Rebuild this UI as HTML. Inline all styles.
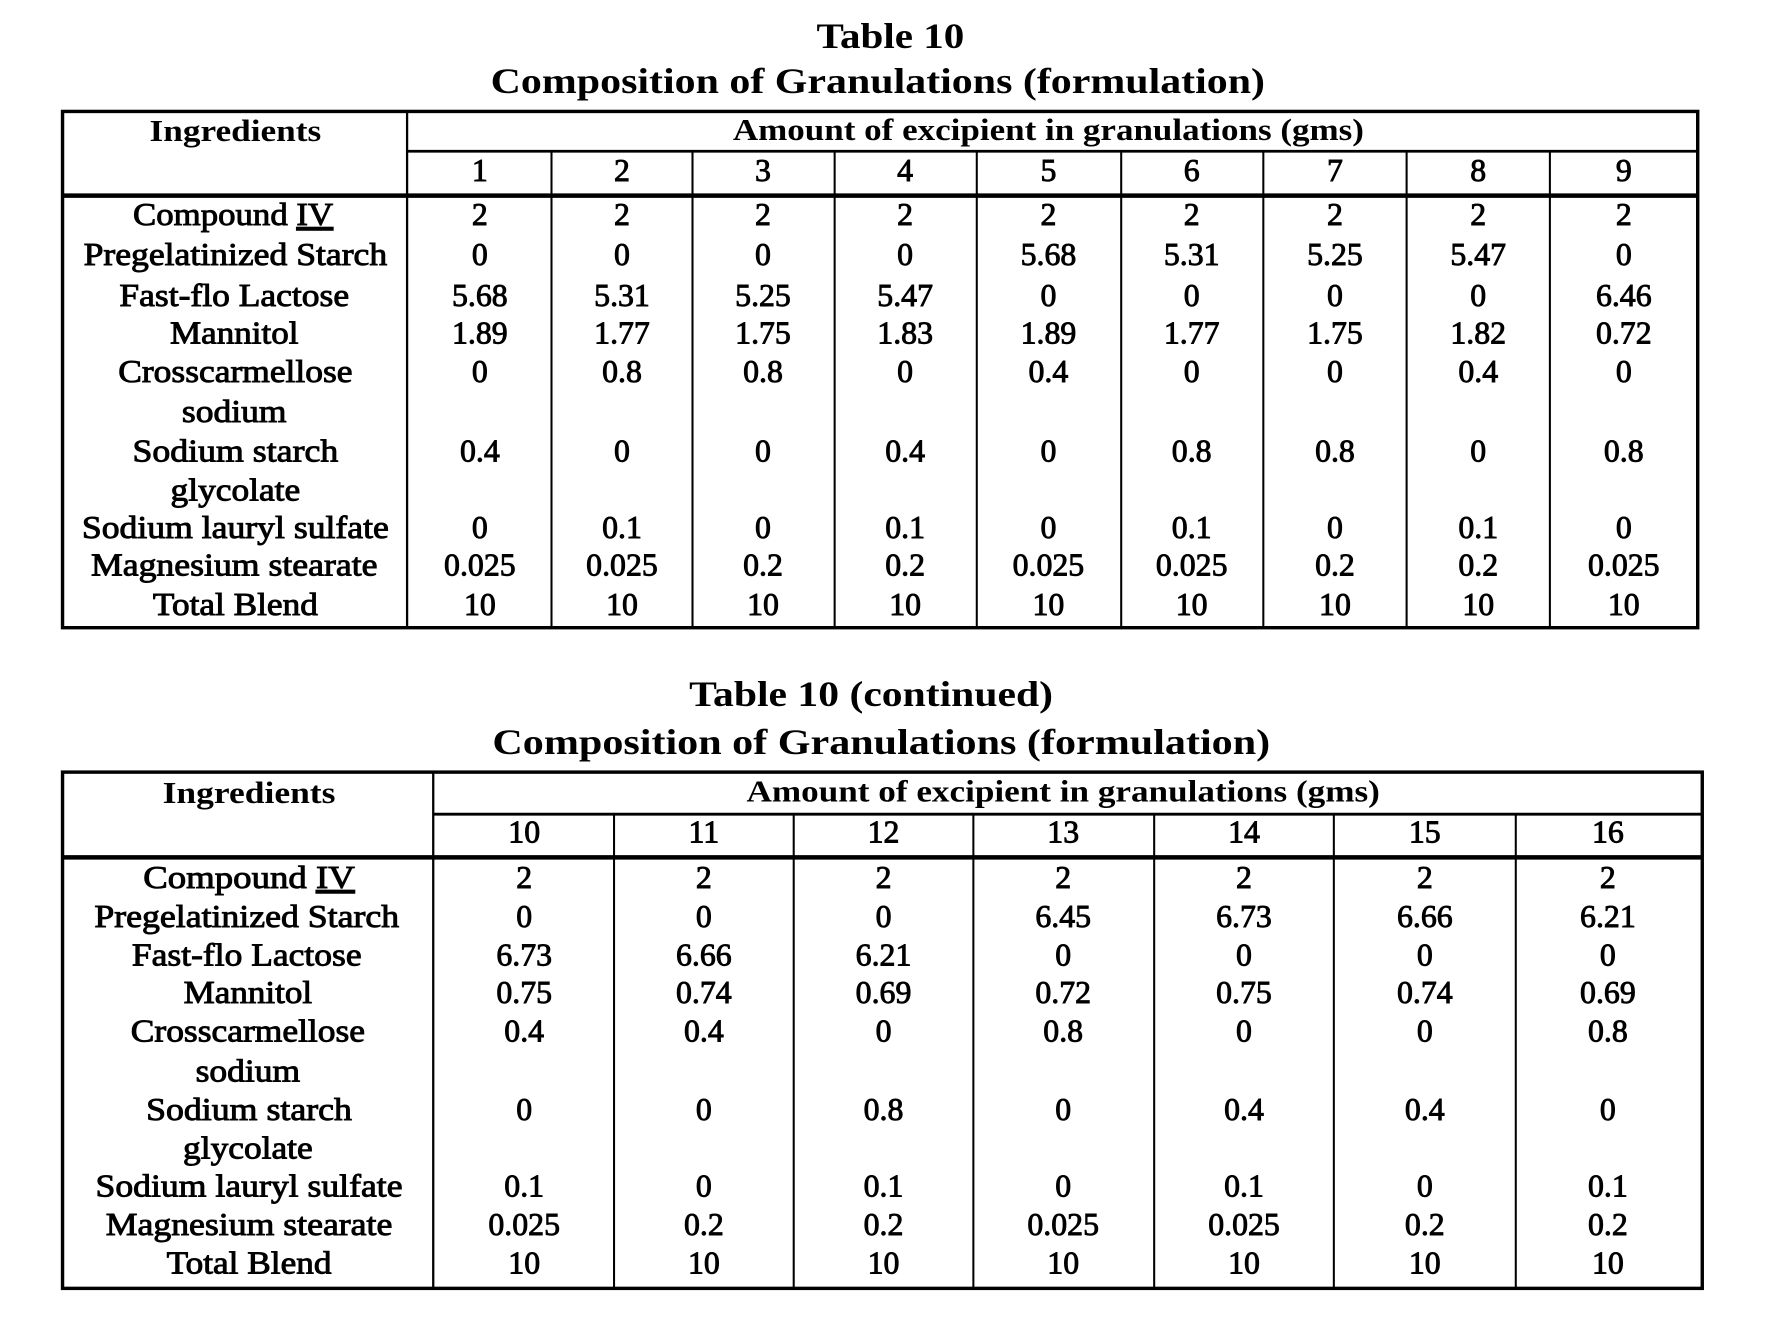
<!DOCTYPE html>
<html><head><meta charset="utf-8"><style>
html,body{margin:0;padding:0;background:#fff;}
svg{display:block;}
text{font-family:"Liberation Serif",serif;fill:#000;}
.t{font-weight:bold;font-size:32px;}
.h{font-weight:bold;font-size:27px;}
.d{font-size:28px;stroke:#000;stroke-width:0.8;}
</style></head><body>
<svg width="1783" height="1335" viewBox="0 0 1568 1174" preserveAspectRatio="none" xmlns="http://www.w3.org/2000/svg">
<g text-anchor="middle">
<text class="t" x="783" y="42" textLength="130" lengthAdjust="spacingAndGlyphs">Table 10</text>
<text class="t" x="772" y="82" textLength="681" lengthAdjust="spacingAndGlyphs">Composition of Granulations (formulation)</text>
</g>
<g stroke="#000" fill="none">
<rect x="55" y="98" width="1438" height="454" stroke-width="3"/>
<line x1="55" y1="172" x2="1493" y2="172" stroke-width="4"/>
<line x1="358" y1="133" x2="1493" y2="133" stroke-width="2.5"/>
<line x1="358" y1="98" x2="358" y2="552" stroke-width="2"/>
<g stroke-width="1.8">
<line x1="485" y1="133" x2="485" y2="552"/><line x1="609" y1="133" x2="609" y2="552"/>
<line x1="734" y1="133" x2="734" y2="552"/><line x1="859" y1="133" x2="859" y2="552"/>
<line x1="986" y1="133" x2="986" y2="552"/><line x1="1111" y1="133" x2="1111" y2="552"/>
<line x1="1237" y1="133" x2="1237" y2="552"/><line x1="1363" y1="133" x2="1363" y2="552"/>
</g>
</g>
<g text-anchor="middle">
<text class="h" x="207" y="124" textLength="151" lengthAdjust="spacingAndGlyphs">Ingredients</text>
<text class="h" x="922" y="123" textLength="555" lengthAdjust="spacingAndGlyphs">Amount of excipient in granulations (gms)</text>
</g>
<g text-anchor="middle">
<text class="d" x="205" y="198" textLength="176" lengthAdjust="spacingAndGlyphs">Compound <tspan text-decoration="underline">IV</tspan></text>
<text class="d" x="207" y="233" textLength="267" lengthAdjust="spacingAndGlyphs">Pregelatinized Starch</text>
<text class="d" x="206" y="269" textLength="202" lengthAdjust="spacingAndGlyphs">Fast-flo Lactose</text>
<text class="d" x="206" y="302" textLength="113" lengthAdjust="spacingAndGlyphs">Mannitol</text>
<text class="d" x="207" y="336" textLength="206" lengthAdjust="spacingAndGlyphs">Crosscarmellose</text>
<text class="d" x="206" y="371" textLength="92" lengthAdjust="spacingAndGlyphs">sodium</text>
<text class="d" x="207" y="406" textLength="181" lengthAdjust="spacingAndGlyphs">Sodium starch</text>
<text class="d" x="207" y="440" textLength="114" lengthAdjust="spacingAndGlyphs">glycolate</text>
<text class="d" x="207" y="473" textLength="270" lengthAdjust="spacingAndGlyphs">Sodium lauryl sulfate</text>
<text class="d" x="206" y="506" textLength="252" lengthAdjust="spacingAndGlyphs">Magnesium stearate</text>
<text class="d" x="207" y="541" textLength="145" lengthAdjust="spacingAndGlyphs">Total Blend</text>
</g>
<g text-anchor="middle">
<text class="t" x="766" y="621" textLength="320" lengthAdjust="spacingAndGlyphs">Table 10 (continued)</text>
<text class="t" x="775" y="663" textLength="684" lengthAdjust="spacingAndGlyphs">Composition of Granulations (formulation)</text>
</g>
<g stroke="#000" fill="none">
<rect x="55" y="679" width="1442" height="454" stroke-width="3"/>
<line x1="55" y1="754" x2="1497" y2="754" stroke-width="4"/>
<line x1="381" y1="716" x2="1497" y2="716" stroke-width="2.5"/>
<line x1="381" y1="679" x2="381" y2="1133" stroke-width="2"/>
<g stroke-width="1.8">
<line x1="540" y1="716" x2="540" y2="1133"/><line x1="698" y1="716" x2="698" y2="1133"/>
<line x1="856" y1="716" x2="856" y2="1133"/><line x1="1015" y1="716" x2="1015" y2="1133"/>
<line x1="1173" y1="716" x2="1173" y2="1133"/><line x1="1333" y1="716" x2="1333" y2="1133"/>
</g>
</g>
<g text-anchor="middle">
<text class="h" x="219" y="706" textLength="152" lengthAdjust="spacingAndGlyphs">Ingredients</text>
<text class="h" x="935" y="705" textLength="557" lengthAdjust="spacingAndGlyphs">Amount of excipient in granulations (gms)</text>
</g>
<g text-anchor="middle">
<text class="d" x="219" y="781" textLength="186" lengthAdjust="spacingAndGlyphs">Compound <tspan text-decoration="underline">IV</tspan></text>
<text class="d" x="217" y="815" textLength="268" lengthAdjust="spacingAndGlyphs">Pregelatinized Starch</text>
<text class="d" x="217" y="849" textLength="202" lengthAdjust="spacingAndGlyphs">Fast-flo Lactose</text>
<text class="d" x="218" y="882" textLength="113" lengthAdjust="spacingAndGlyphs">Mannitol</text>
<text class="d" x="218" y="916" textLength="206" lengthAdjust="spacingAndGlyphs">Crosscarmellose</text>
<text class="d" x="218" y="951" textLength="92" lengthAdjust="spacingAndGlyphs">sodium</text>
<text class="d" x="219" y="985" textLength="181" lengthAdjust="spacingAndGlyphs">Sodium starch</text>
<text class="d" x="218" y="1019" textLength="114" lengthAdjust="spacingAndGlyphs">glycolate</text>
<text class="d" x="219" y="1052" textLength="270" lengthAdjust="spacingAndGlyphs">Sodium lauryl sulfate</text>
<text class="d" x="219" y="1086" textLength="252" lengthAdjust="spacingAndGlyphs">Magnesium stearate</text>
<text class="d" x="219" y="1120" textLength="145" lengthAdjust="spacingAndGlyphs">Total Blend</text>
</g>
<g text-anchor="middle" class="d">
<text x="422" y="159">1</text><text x="547" y="159">2</text><text x="671" y="159">3</text><text x="796" y="159">4</text><text x="922" y="159">5</text><text x="1048" y="159">6</text><text x="1174" y="159">7</text><text x="1300" y="159">8</text><text x="1428" y="159">9</text>
<text x="422" y="198">2</text><text x="547" y="198">2</text><text x="671" y="198">2</text><text x="796" y="198">2</text><text x="922" y="198">2</text><text x="1048" y="198">2</text><text x="1174" y="198">2</text><text x="1300" y="198">2</text><text x="1428" y="198">2</text>
<text x="422" y="233">0</text><text x="547" y="233">0</text><text x="671" y="233">0</text><text x="796" y="233">0</text><text x="922" y="233">5.68</text><text x="1048" y="233">5.31</text><text x="1174" y="233">5.25</text><text x="1300" y="233">5.47</text><text x="1428" y="233">0</text>
<text x="422" y="269">5.68</text><text x="547" y="269">5.31</text><text x="671" y="269">5.25</text><text x="796" y="269">5.47</text><text x="922" y="269">0</text><text x="1048" y="269">0</text><text x="1174" y="269">0</text><text x="1300" y="269">0</text><text x="1428" y="269">6.46</text>
<text x="422" y="302">1.89</text><text x="547" y="302">1.77</text><text x="671" y="302">1.75</text><text x="796" y="302">1.83</text><text x="922" y="302">1.89</text><text x="1048" y="302">1.77</text><text x="1174" y="302">1.75</text><text x="1300" y="302">1.82</text><text x="1428" y="302">0.72</text>
<text x="422" y="336">0</text><text x="547" y="336">0.8</text><text x="671" y="336">0.8</text><text x="796" y="336">0</text><text x="922" y="336">0.4</text><text x="1048" y="336">0</text><text x="1174" y="336">0</text><text x="1300" y="336">0.4</text><text x="1428" y="336">0</text>
<text x="422" y="406">0.4</text><text x="547" y="406">0</text><text x="671" y="406">0</text><text x="796" y="406">0.4</text><text x="922" y="406">0</text><text x="1048" y="406">0.8</text><text x="1174" y="406">0.8</text><text x="1300" y="406">0</text><text x="1428" y="406">0.8</text>
<text x="422" y="473">0</text><text x="547" y="473">0.1</text><text x="671" y="473">0</text><text x="796" y="473">0.1</text><text x="922" y="473">0</text><text x="1048" y="473">0.1</text><text x="1174" y="473">0</text><text x="1300" y="473">0.1</text><text x="1428" y="473">0</text>
<text x="422" y="506">0.025</text><text x="547" y="506">0.025</text><text x="671" y="506">0.2</text><text x="796" y="506">0.2</text><text x="922" y="506">0.025</text><text x="1048" y="506">0.025</text><text x="1174" y="506">0.2</text><text x="1300" y="506">0.2</text><text x="1428" y="506">0.025</text>
<text x="422" y="541">10</text><text x="547" y="541">10</text><text x="671" y="541">10</text><text x="796" y="541">10</text><text x="922" y="541">10</text><text x="1048" y="541">10</text><text x="1174" y="541">10</text><text x="1300" y="541">10</text><text x="1428" y="541">10</text>
<text x="461" y="741">10</text><text x="619" y="741">11</text><text x="777" y="741">12</text><text x="935" y="741">13</text><text x="1094" y="741">14</text><text x="1253" y="741">15</text><text x="1414" y="741">16</text>
<text x="461" y="781">2</text><text x="619" y="781">2</text><text x="777" y="781">2</text><text x="935" y="781">2</text><text x="1094" y="781">2</text><text x="1253" y="781">2</text><text x="1414" y="781">2</text>
<text x="461" y="815">0</text><text x="619" y="815">0</text><text x="777" y="815">0</text><text x="935" y="815">6.45</text><text x="1094" y="815">6.73</text><text x="1253" y="815">6.66</text><text x="1414" y="815">6.21</text>
<text x="461" y="849">6.73</text><text x="619" y="849">6.66</text><text x="777" y="849">6.21</text><text x="935" y="849">0</text><text x="1094" y="849">0</text><text x="1253" y="849">0</text><text x="1414" y="849">0</text>
<text x="461" y="882">0.75</text><text x="619" y="882">0.74</text><text x="777" y="882">0.69</text><text x="935" y="882">0.72</text><text x="1094" y="882">0.75</text><text x="1253" y="882">0.74</text><text x="1414" y="882">0.69</text>
<text x="461" y="916">0.4</text><text x="619" y="916">0.4</text><text x="777" y="916">0</text><text x="935" y="916">0.8</text><text x="1094" y="916">0</text><text x="1253" y="916">0</text><text x="1414" y="916">0.8</text>
<text x="461" y="985">0</text><text x="619" y="985">0</text><text x="777" y="985">0.8</text><text x="935" y="985">0</text><text x="1094" y="985">0.4</text><text x="1253" y="985">0.4</text><text x="1414" y="985">0</text>
<text x="461" y="1052">0.1</text><text x="619" y="1052">0</text><text x="777" y="1052">0.1</text><text x="935" y="1052">0</text><text x="1094" y="1052">0.1</text><text x="1253" y="1052">0</text><text x="1414" y="1052">0.1</text>
<text x="461" y="1086">0.025</text><text x="619" y="1086">0.2</text><text x="777" y="1086">0.2</text><text x="935" y="1086">0.025</text><text x="1094" y="1086">0.025</text><text x="1253" y="1086">0.2</text><text x="1414" y="1086">0.2</text>
<text x="461" y="1120">10</text><text x="619" y="1120">10</text><text x="777" y="1120">10</text><text x="935" y="1120">10</text><text x="1094" y="1120">10</text><text x="1253" y="1120">10</text><text x="1414" y="1120">10</text>
</g>
</svg>
</body></html>
